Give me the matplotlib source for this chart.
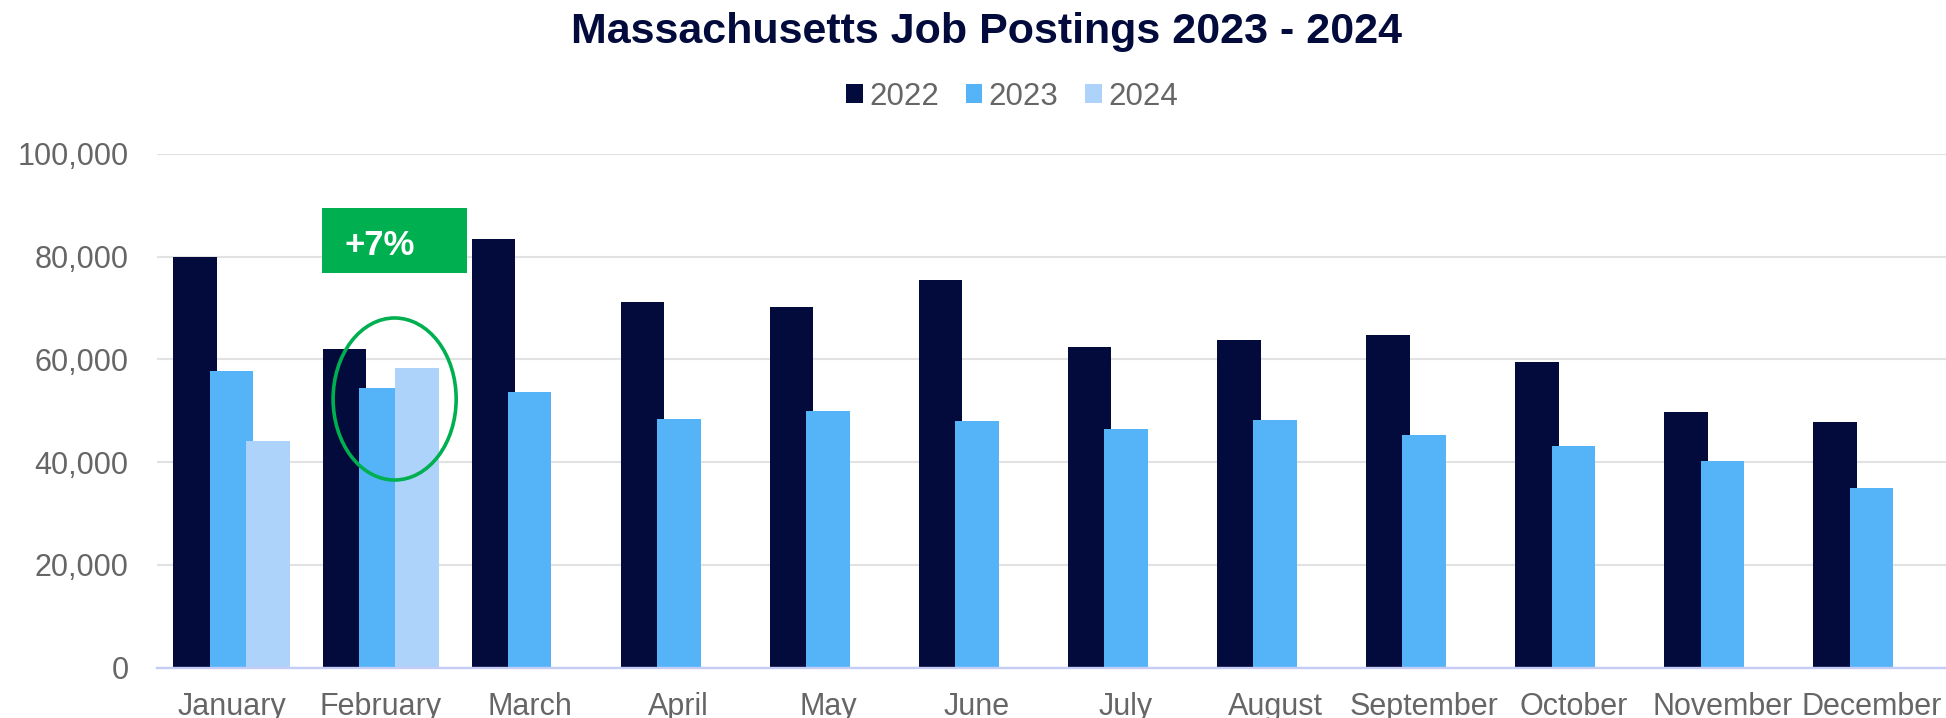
import matplotlib
matplotlib.use("Agg")
import matplotlib.pyplot as plt
from matplotlib.patches import Ellipse, Rectangle
from matplotlib.ticker import FuncFormatter
import numpy as np

plt.rcParams['font.family'] = ['Liberation Sans', 'DejaVu Sans']

months = ["January", "February", "March", "April", "May", "June",
          "July", "August", "September", "October", "November", "December"]
jobs_2022 = [80000, 61970, 83500, 71240, 70140, 75460,
             62480, 63780, 64820, 59490, 49690, 47870]
jobs_2023 = [57740, 54490, 53710, 48450, 49890, 48000,
             46510, 48260, 45340, 43130, 40150, 34900]
jobs_2024 = [44070, 58330]
series_labels = ["2022", "2023", "2024"]
y_ticks = [0, 20000, 40000, 60000, 80000, 100000]

NAVY = "#020B3B"
BLUE = "#55B4F8"
LIGHT = "#ADD3FA"
GREEN = "#00B050"
GRAY = "#666666"

fig = plt.figure(figsize=(19.46, 7.18), dpi=100)
ax = fig.add_axes([157 / 1946, 50.5 / 718, 1 - 157 / 1946, 513.5 / 718])

x = np.arange(len(months))
width = 0.292
step = 0.2436

ax.bar(x - step, jobs_2022, width, color=NAVY, label=series_labels[0], zorder=2)
ax.bar(x, jobs_2023, width, color=BLUE, label=series_labels[1], zorder=3)
ax.bar(x[:len(jobs_2024)] + step, jobs_2024, width, color=LIGHT, label=series_labels[2], zorder=4)

ax.set_xlim(-0.5, len(months) - 0.5)
ax.set_ylim(0, 100000)
ax.set_yticks(y_ticks)
ax.yaxis.set_major_formatter(FuncFormatter(lambda v, p: f"{int(v):,}"))
ax.set_xticks(x)
ax.set_xticklabels(months)
ax.tick_params(axis="both", length=0, labelsize=22, labelcolor=GRAY)
ax.tick_params(axis="y", pad=20.5)
ax.tick_params(axis="x", pad=17.5)

ax.grid(axis="y", color="#E2E2E2", linewidth=1.5, zorder=0)
ax.set_axisbelow(True)
for side in ["top", "right", "left"]:
    ax.spines[side].set_visible(False)
ax.spines["bottom"].set_color("#C5CCF5")
ax.spines["bottom"].set_linewidth(1.7)
ax.spines["bottom"].set_zorder(5)

# February callout: growth 2023 -> 2024
feb = 1
growth = jobs_2024[feb] / jobs_2023[feb] - 1
box = Rectangle((feb - 0.393, 76890), 0.973, 12590, facecolor=GREEN,
                edgecolor="none", zorder=6)
ax.add_patch(box)
ax.text(feb - 0.008, 80330, f"+{growth:.0%}", color="white", fontsize=25,
        fontweight="bold", ha="center", va="baseline", zorder=7)
ell = Ellipse((feb + 0.094, 52290), 0.8255, 31550, fill=False,
              edgecolor=GREEN, linewidth=2.6, zorder=7)
ax.add_patch(ell)

fig.text(986 / 1946, 1 - 42.7 / 718, "Massachusetts Job Postings 2023 - 2024",
         ha="center", va="baseline", fontsize=31, fontweight="bold", color=NAVY)

fig.legend(loc="center", bbox_to_anchor=(1012 / 1946, 1 - 96.7 / 718), ncol=3,
           frameon=False, fontsize=22.5, labelcolor=GRAY,
           handlelength=0.53, handleheight=0.53, handletextpad=0.21,
           columnspacing=0.85, borderpad=0)

fig.savefig("out.png", dpi=100)
